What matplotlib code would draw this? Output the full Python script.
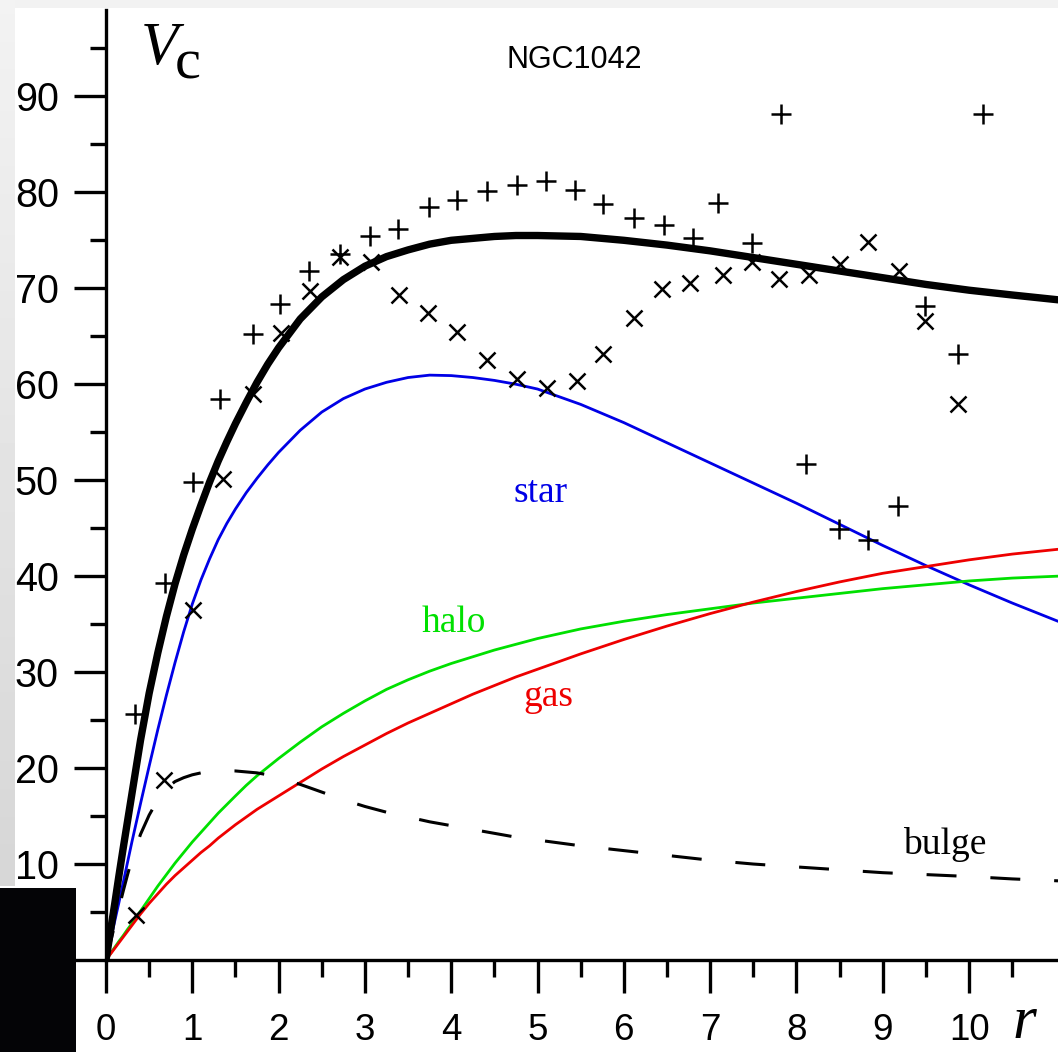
import numpy as np
import matplotlib.pyplot as plt
from matplotlib.patches import Rectangle

# ---------------------------------------------------------------
# Data
# ---------------------------------------------------------------
# observed points: "+" (one side) and "x" (other side)
r_plus = [0.34, 0.68, 1.01, 1.32, 1.70, 2.02, 2.35, 2.71, 3.06, 3.38,
          3.74, 4.07, 4.41, 4.76, 5.10, 5.43, 5.76, 6.12, 6.47, 6.80,
          7.09, 7.49, 7.82, 8.11, 8.49, 8.83, 9.18, 9.49, 9.87, 10.16]
v_plus = [25.6, 39.3, 49.8, 58.5, 65.2, 68.4, 71.8, 73.6, 75.5, 76.2,
          78.5, 79.2, 80.1, 80.8, 81.2, 80.2, 78.8, 77.3, 76.6, 75.2,
          78.9, 74.7, 88.2, 51.7, 44.9, 43.8, 47.3, 68.2, 63.1, 88.2]

r_cross = [0.35, 0.67, 1.01, 1.36, 1.70, 2.03, 2.36, 2.71, 3.07, 3.40,
           3.73, 4.07, 4.41, 4.76, 5.11, 5.46, 5.76, 6.12, 6.44, 6.77,
           7.15, 7.49, 7.80, 8.15, 8.50, 8.83, 9.19, 9.49, 9.87]
v_cross = [4.7, 18.8, 36.5, 50.1, 59.0, 65.3, 69.7, 73.3, 72.7, 69.3,
           67.4, 65.4, 62.5, 60.5, 59.6, 60.3, 63.2, 66.9, 69.9, 70.5,
           71.4, 72.7, 71.0, 71.4, 72.5, 74.8, 71.8, 66.6, 57.9]

# model curves (values read at these radii)
r_curve = [0, 0.05, 0.1, 0.15, 0.2, 0.25, 0.3, 0.4, 0.5, 0.6, 0.7, 0.8, 0.9,
           1.0, 1.1, 1.2, 1.3, 1.4, 1.5, 1.625, 1.75, 1.875, 2.0, 2.25, 2.5,
           2.75, 3.0, 3.25, 3.5, 3.75, 4.0, 4.25, 4.5, 4.75, 5.0, 5.5, 6.0,
           6.5, 7.0, 7.5, 8.0, 8.5, 9.0, 9.5, 10.0, 10.5, 11.03]
v_total = [0, 2.9, 5.8, 8.8, 11.7, 14.5, 17.3, 22.9, 27.8, 32.0, 35.8, 39.2, 42.2,
           44.9, 47.4, 49.8, 52.0, 54.0, 55.9, 58.1, 60.2, 62.1, 63.8, 66.8, 69.1,
           70.9, 72.3, 73.3, 74.0, 74.6, 75.0, 75.2, 75.4, 75.5, 75.5, 75.4, 75.0,
           74.5, 73.9, 73.2, 72.5, 71.8, 71.1, 70.4, 69.8, 69.3, 68.8]
v_star = [0, 2.0, 4.0, 6.0, 8.1, 10.2, 12.3, 16.3, 20.2, 24.0, 27.6, 31.0, 34.2,
          37.1, 39.6, 41.8, 43.8, 45.5, 47.0, 48.7, 50.2, 51.6, 52.9, 55.2, 57.1,
          58.5, 59.5, 60.2, 60.7, 60.95, 60.9, 60.7, 60.4, 60.0, 59.5, 57.9, 56.0,
          53.9, 51.8, 49.7, 47.6, 45.4, 43.2, 41.1, 39.1, 37.2, 35.3]
v_halo = [0, 0.65, 1.3, 1.95, 2.55, 3.2, 3.8, 5.1, 6.4, 7.7, 8.9, 10.1, 11.2,
          12.3, 13.3, 14.3, 15.3, 16.2, 17.1, 18.2, 19.2, 20.1, 21.0, 22.7, 24.3,
          25.7, 27.0, 28.2, 29.2, 30.1, 30.9, 31.6, 32.3, 32.9, 33.5, 34.5, 35.3,
          36.0, 36.6, 37.2, 37.7, 38.2, 38.7, 39.1, 39.5, 39.8, 40.0]
v_gas = [0, 0.6, 1.2, 1.8, 2.4, 3.0, 3.6, 4.8, 5.9, 6.9, 7.9, 8.8, 9.6,
         10.4, 11.2, 11.9, 12.7, 13.4, 14.1, 14.9, 15.7, 16.4, 17.1, 18.5, 19.9,
         21.2, 22.4, 23.6, 24.7, 25.7, 26.7, 27.7, 28.6, 29.5, 30.3, 31.9, 33.4,
         34.8, 36.1, 37.3, 38.4, 39.4, 40.3, 41.0, 41.7, 42.3, 42.8]
v_bulge = [0, 1.8, 3.6, 5.4, 7.2, 8.9, 10.5, 13.1, 15.1, 16.7, 17.9, 18.6, 19.0,
           19.3, 19.5, 19.6, 19.7, 19.7, 19.7, 19.6, 19.5, 19.3, 19.0, 18.3, 17.5,
           16.7, 16.0, 15.4, 14.9, 14.4, 14.0, 13.6, 13.2, 12.8, 12.5, 11.9, 11.4,
           10.9, 10.4, 10.0, 9.7, 9.4, 9.1, 8.9, 8.7, 8.45, 8.25]

x_major = list(range(0, 11))
x_minor = [0.5, 1.5, 2.5, 3.5, 4.5, 5.5, 6.5, 7.5, 8.5, 9.5, 10.5]
y_major = [0, 10, 20, 30, 40, 50, 60, 70, 80, 90]
y_minor = [5, 15, 25, 35, 45, 55, 65, 75, 85, 95]

SANS = 'Liberation Sans'
SERIF = 'Liberation Serif'

W, H = 1058, 1052
fig = plt.figure(figsize=(W / 100, H / 100), dpi=100)
fig.patch.set_facecolor('white')

# ---------------------------------------------------------------
# screenshot frame bits (grey strips, black box at lower left)
# ---------------------------------------------------------------
fig.add_artist(Rectangle((0, 1 - 8 / H), 1, 8 / H, transform=fig.transFigure,
                         color='#f2f2f2', lw=0, zorder=0.5))
strip = fig.add_axes([0, 1 - 886 / H, 15 / W, 886 / H], zorder=0.5)
strip.imshow(np.linspace(0.95, 0.84, 64).reshape(-1, 1), cmap='gray',
             vmin=0, vmax=1, aspect='auto')
strip.axis('off')

# ---------------------------------------------------------------
# main axes
# ---------------------------------------------------------------
ax = fig.add_axes([106 / W, 1 - 960 / H, 952 / W, 950 / H], zorder=1)
ax.set_xlim(0, 11.03)
ax.set_ylim(0, 99)
ax.patch.set_alpha(0)

for s in ['top', 'right']:
    ax.spines[s].set_visible(False)
for s in ['left', 'bottom']:
    ax.spines[s].set_linewidth(2.4)

ax.set_xticks(x_major)
ax.set_xticks(x_minor, minor=True)
ax.set_yticks(y_major)
ax.set_yticks(y_minor, minor=True)
ax.tick_params(which='major', direction='out', width=2.4)
ax.tick_params(axis='x', which='major', length=24, pad=14, labelsize=26.5)
ax.tick_params(axis='y', which='major', length=23, pad=11, labelsize=28.5)
ax.tick_params(axis='x', which='minor', direction='out', length=12, width=2.4)
ax.tick_params(axis='y', which='minor', direction='out', length=11.5, width=2.4)
for lab in ax.get_xticklabels() + ax.get_yticklabels():
    lab.set_fontfamily(SANS)

# component curves
ax.plot(r_curve, v_star, color='#0000e6', lw=2.0)
ax.plot(r_curve, v_halo, color='#00e000', lw=2.0)
ax.plot(r_curve, v_gas, color='#ee0000', lw=2.0)
ax.plot(r_curve, v_bulge, color='black', lw=2.2, dashes=(9.8, 11.1))
ax.plot(r_curve, v_total, color='black', lw=5.3, solid_capstyle='round')

# observed points
ax.plot(r_plus, v_plus, linestyle='none', marker='+', ms=14, mew=1.8,
        color='black', zorder=4)
ax.plot(r_cross, v_cross, linestyle='none', marker='x', ms=11, mew=1.8,
        color='black', zorder=4)

# labels
ax.text(5.03, 47.7, 'star', color='#0000e6', fontsize=27, fontfamily=SERIF,
        ha='center', va='baseline')
ax.text(4.03, 34.2, 'halo', color='#00e000', fontsize=27, fontfamily=SERIF,
        ha='center', va='baseline')
ax.text(5.12, 26.5, 'gas', color='#ee0000', fontsize=27, fontfamily=SERIF,
        ha='center', va='baseline')
ax.text(9.72, 11.0, 'bulge', color='black', fontsize=27, fontfamily=SERIF,
        ha='center', va='baseline')
ax.text(5.43, 93.0, 'NGC1042', color='black', fontsize=22, fontfamily=SANS,
        ha='center', va='baseline')

# axis names
ax.text(0.40, 93.4, 'V', fontsize=44, fontfamily=SERIF, style='italic',
        ha='left', va='baseline')
ax.text(0.80, 91.9, 'c', fontsize=42, fontfamily=SERIF,
        ha='left', va='baseline')
ax.text(10.50, -8.1, 'r', fontsize=44, fontfamily=SERIF, style='italic',
        ha='left', va='baseline', clip_on=False)

# black box covering the lower-left corner
fig.add_artist(Rectangle((0, 0), 76 / W, 164 / H, transform=fig.transFigure,
                         color='#040406', lw=0, zorder=10))

fig.savefig('out.png', dpi=100)
